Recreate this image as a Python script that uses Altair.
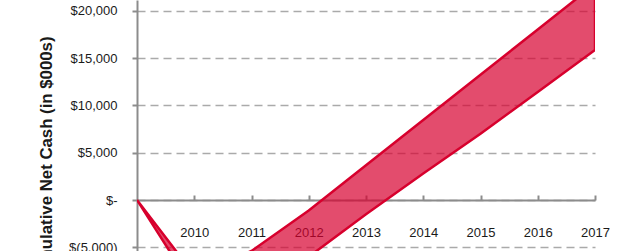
import altair as alt
import pandas as pd

# ---- data ----
years = [2009, 2010, 2011, 2012, 2013, 2014, 2015, 2016, 2017]
high_case = [0, -7900, -5380, -1100, 3680, 8460, 13240, 18020, 22800]
low_case = [0, -9500, -8700, -6000, -1500, 2800, 7000, 11400, 15840]
y_ticks = [-5000, 0, 5000, 10000, 15000, 20000]
x_ticks = [2010, 2011, 2012, 2013, 2014, 2015, 2016, 2017]

df = pd.DataFrame({"year": years, "high": high_case, "low": low_case})

FONT = "Liberation Sans"
AXIS_GRAY = "#8C8C8C"
TEXT = "#1a1a1a"

x_scale = alt.Scale(domain=[2009, 2017], nice=False, zero=False)
y_scale = alt.Scale(domain=[-5388, 21130], nice=False, zero=False)

label_expr = (
    "datum.value == 0 ? '$-\u00a0\u00a0' : "
    "(datum.value < 0 ? '$(' + format(-datum.value, ',') + ')' : "
    "'$' + format(datum.value, ',') + '\u00a0')"
)

band = alt.Chart(df).mark_area(
    fill="#D7002F", fillOpacity=0.7,
    stroke="#D7002D", strokeWidth=2.5, clip=True
).encode(
    x=alt.X("year:Q", scale=x_scale,
            axis=alt.Axis(orient="bottom", offset=-51, values=x_ticks, format="d",
                          domain=False, ticks=False, tickSize=0, grid=False,
                          labelPadding=36, labelBaseline="alphabetic",
                          labelFontSize=13, labelFont=FONT, labelColor=TEXT,
                          labelFlush=False, title=None)),
    y=alt.Y("high:Q", scale=y_scale,
            axis=alt.Axis(values=y_ticks, labelExpr=label_expr,
                          grid=True, gridDash=[8, 5], gridColor="#AAAAAA", gridWidth=1.5,
                          domainColor=AXIS_GRAY, domainWidth=2,
                          tickColor=AXIS_GRAY, tickSize=5, tickWidth=2,
                          labelPadding=15, labelFontSize=13, labelFont=FONT,
                          labelColor=TEXT, labelFlush=False,
                          title="Cumulative Net Cash (in $000s)",
                          titleFont=FONT, titleFontSize=16.8, titleFontWeight="bold",
                          titleColor=TEXT, titleAngle=270, titleAlign="right",
                          titleBaseline="alphabetic", titleX=-86, titleY=36)),
    y2="low:Q",
)

ticks = alt.Chart(df).mark_point(opacity=0).encode(
    x=alt.X("year:Q", scale=x_scale,
            axis=alt.Axis(orient="top", offset=-200, values=x_ticks, labels=False,
                          domainColor=AXIS_GRAY, domainWidth=2,
                          tickColor=AXIS_GRAY, tickSize=5, tickWidth=2,
                          grid=False, title=None)),
)

chart = alt.layer(band, ticks).resolve_axis(x="independent").properties(
    width=458, height=251,
    padding={"left": 137, "top": 0, "right": 45, "bottom": 0},
    autosize=alt.AutoSizeParams(type="none"),
    background="white",
).configure_view(stroke=None)

chart.save("out.html", embed_options={"renderer": "svg", "actions": False})
